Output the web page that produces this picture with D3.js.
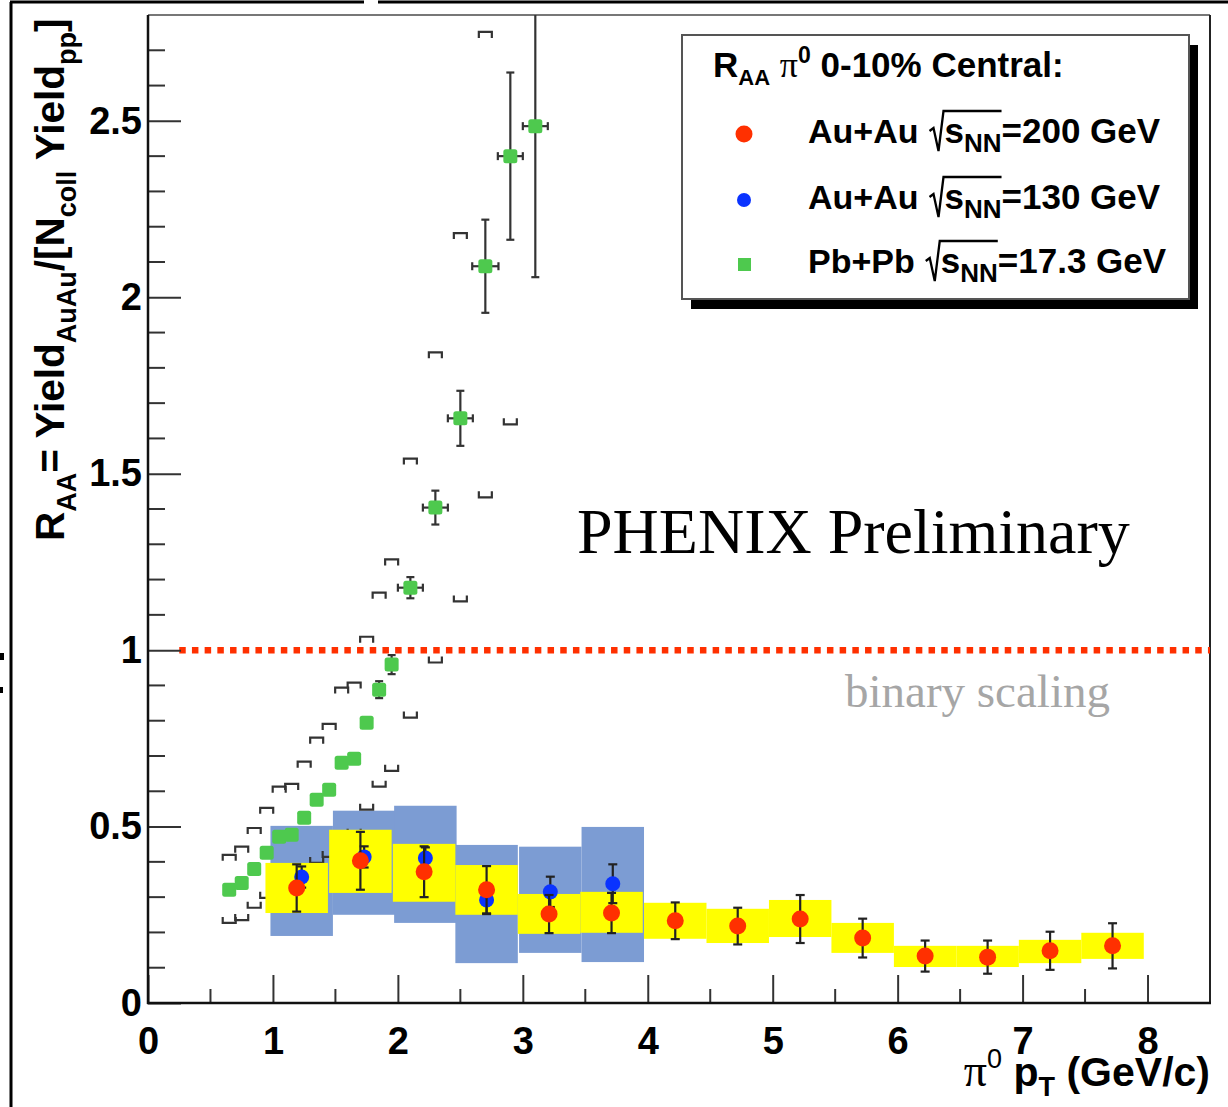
<!DOCTYPE html>
<html><head><meta charset="utf-8">
<script src="https://cdn.jsdelivr.net/npm/d3@7"></script>
<style>html,body{margin:0;padding:0;background:#fff;overflow:hidden}</style>
</head><body>
<svg id="chart" width="1228" height="1107"></svg>
<script>
// ---------------- data ----------------
// Au+Au 200 GeV (red)
const ptAuAu200   = [1.19, 1.70, 2.21, 2.71, 3.21, 3.71, 4.22, 4.72, 5.22, 5.72, 6.22, 6.72, 7.22, 7.72];
const raaAuAu200  = [0.326, 0.403, 0.372, 0.321, 0.252, 0.255, 0.233, 0.218, 0.238, 0.184, 0.133, 0.130, 0.148, 0.162];
const statAuAu200 = [0.067, 0.082, 0.072, 0.067, 0.054, 0.057, 0.052, 0.052, 0.068, 0.055, 0.044, 0.047, 0.054, 0.064];
const sysHiAuAu200 = [0.397, 0.491, 0.451, 0.391, 0.309, 0.315, 0.284, 0.267, 0.292, 0.227, 0.162, 0.162, 0.179, 0.199];
const sysLoAuAu200 = [0.255, 0.312, 0.287, 0.250, 0.196, 0.199, 0.182, 0.170, 0.187, 0.142, 0.102, 0.102, 0.113, 0.125];
// Au+Au 130 GeV (blue)
const ptAuAu130   = [1.23, 1.73, 2.22, 2.71, 3.22, 3.72];
const raaAuAu130  = [0.357, 0.414, 0.411, 0.292, 0.315, 0.338];
const statAuAu130 = [0.030, 0.030, 0.030, 0.040, 0.043, 0.055];
const sysHiAuAu130 = [0.502, 0.545, 0.559, 0.448, 0.443, 0.499];
const sysLoAuAu130 = [0.190, 0.250, 0.227, 0.113, 0.142, 0.116];
// Pb+Pb 17.3 GeV (green)
const ptPbPb    = [0.65, 0.75, 0.85, 0.95, 1.05, 1.15, 1.25, 1.35, 1.45, 1.55, 1.65, 1.75, 1.85, 1.95, 2.1, 2.3, 2.5, 2.7, 2.9, 3.1];
const raaPbPb   = [0.321, 0.340, 0.380, 0.426, 0.471, 0.477, 0.525, 0.576, 0.604, 0.681, 0.692, 0.794, 0.888, 0.959, 1.177, 1.404, 1.657, 2.088, 2.400, 2.485];
const statPbPb  = [0.01, 0.01, 0.01, 0.01, 0.01, 0.01, 0.01, 0.01, 0.01, 0.01, 0.01, 0.012, 0.024, 0.027, 0.030, 0.048, 0.078, 0.132, 0.237, 0.428];
const ptErrPbPb = [0, 0, 0, 0, 0, 0, 0, 0, 0, 0, 0, 0, 0, 0, 0.10, 0.10, 0.10, 0.105, 0.10, 0.10];
const sysUpPbPb = [0.420, 0.443, 0.496, 0.553, 0.613, 0.621, 0.684, 0.752, 0.791, 0.894, 0.908, 1.038, 1.163, 1.257, 1.543, 1.844, 2.182, 2.752, null, null];
const sysLoPbPb = [0.227, 0.235, 0.270, 0.298, 0.326, 0.329, 0.362, 0.397, 0.414, 0.470, 0.477, 0.548, 0.613, 0.658, 0.809, 0.965, 1.138, 1.433, 1.640, null];
// axes
const xTicks = [0, 1, 2, 3, 4, 5, 6, 7, 8];
const xTickLabels = ["0", "1", "2", "3", "4", "5", "6", "7", "8"];
const yTicks = [0, 0.5, 1, 1.5, 2, 2.5];
const yTickLabels = ["0", "0.5", "1", "1.5", "2", "2.5"];
const binaryScaling = 1;
// legend
const legendSystems  = ["Au+Au", "Au+Au", "Pb+Pb"];
const legendEnergies = ["=200 GeV", "=130 GeV", "=17.3 GeV"];
const legendMarkers  = ["red", "blue", "green"];

// ---------------- drawing ----------------
const SANS = "'Liberation Sans', Arial, Helvetica, sans-serif";
const SERIF = "'Liberation Serif', 'Times New Roman', Times, serif";
const C = {red: "#ff3000", blue: "#0a33ff", green: "#4ec94e", yellow: "#ffff00", bluebox: "#7c9cd3"};

const svg = d3.select("#chart");
const L = 148, R = 1210, T = 15, B = 1003;
const x = d3.scaleLinear().domain([0, 8.5]).range([L, R]);
const y = d3.scaleLinear().domain([0, 2.8]).range([B, T]);

svg.append("rect").attr("width", 1228).attr("height", 1107).attr("fill", "#fff");

// outer page frame fragments
svg.append("line").attr("x1", 11).attr("x2", 11).attr("y1", 2).attr("y2", 1107).attr("stroke", "#000").attr("stroke-width", 3);
svg.append("line").attr("x1", 10).attr("x2", 364).attr("y1", 2).attr("y2", 2).attr("stroke", "#000").attr("stroke-width", 3);
svg.append("line").attr("x1", 378).attr("x2", 1228).attr("y1", 2).attr("y2", 2).attr("stroke", "#000").attr("stroke-width", 3);
svg.append("rect").attr("x", 0).attr("y", 653).attr("width", 4).attr("height", 7).attr("fill", "#000");
svg.append("rect").attr("x", 0).attr("y", 687).attr("width", 3).attr("height", 6).attr("fill", "#000");

// plot frame
svg.append("line").attr("x1", L).attr("x2", R).attr("y1", T).attr("y2", T).attr("stroke", "#777").attr("stroke-width", 2);
svg.append("line").attr("x1", R).attr("x2", R).attr("y1", T).attr("y2", B).attr("stroke", "#222").attr("stroke-width", 2);

const defs = svg.append("defs");
defs.append("clipPath").attr("id", "plotclip").append("rect")
  .attr("x", L).attr("y", T).attr("width", R - L).attr("height", B - T);
const plot = svg.append("g").attr("clip-path", "url(#plotclip)");

// blue systematic boxes (130 GeV)
plot.append("g").selectAll("rect").data(ptAuAu130).join("rect")
  .attr("x", d => x(d - 0.25)).attr("width", d => x(d + 0.25) - x(d - 0.25))
  .attr("y", (d, i) => y(sysHiAuAu130[i])).attr("height", (d, i) => y(sysLoAuAu130[i]) - y(sysHiAuAu130[i]))
  .attr("fill", C.bluebox);

// Pb+Pb systematic brackets
const bw = 6.5, bl = 6;
const brk = plot.append("g").attr("fill", "none").attr("stroke", "#333").attr("stroke-width", 2.2);
ptPbPb.forEach((p, i) => {
  const cx = x(p);
  if (sysUpPbPb[i] != null) {
    const yy = y(sysUpPbPb[i]);
    brk.append("path").attr("d", `M${cx - bw},${yy + bl}V${yy}H${cx + bw}V${yy + bl}`);
  }
  if (sysLoPbPb[i] != null) {
    const yy = y(sysLoPbPb[i]);
    brk.append("path").attr("d", `M${cx - bw},${yy - bl}V${yy}H${cx + bw}V${yy - bl}`);
  }
});

// Pb+Pb error bars and squares
const ge = plot.append("g").attr("stroke", "#333").attr("stroke-width", 2.2).attr("fill", "none");
ptPbPb.forEach((p, i) => {
  const cx = x(p), v = raaPbPb[i], e = statPbPb[i], ex = ptErrPbPb[i];
  const y1 = y(v + e), y2 = y(v - e);
  ge.append("line").attr("x1", cx).attr("x2", cx).attr("y1", y1).attr("y2", y2);
  ge.append("line").attr("x1", cx - 4).attr("x2", cx + 4).attr("y1", y1).attr("y2", y1);
  ge.append("line").attr("x1", cx - 4).attr("x2", cx + 4).attr("y1", y2).attr("y2", y2);
  if (ex > 0) {
    const x1 = x(p - ex), x2 = x(p + ex), cy = y(v);
    ge.append("line").attr("x1", x1).attr("x2", x2).attr("y1", cy).attr("y2", cy);
    ge.append("line").attr("x1", x1).attr("x2", x1).attr("y1", cy - 4).attr("y2", cy + 4);
    ge.append("line").attr("x1", x2).attr("x2", x2).attr("y1", cy - 4).attr("y2", cy + 4);
  }
});
plot.append("g").selectAll("rect").data(ptPbPb).join("rect")
  .attr("x", d => x(d) - 7).attr("y", (d, i) => y(raaPbPb[i]) - 7)
  .attr("width", 14).attr("height", 14).attr("rx", 2.5).attr("fill", C.green);

// yellow systematic boxes (200 GeV)
plot.append("g").selectAll("rect").data(ptAuAu200).join("rect")
  .attr("x", d => x(d - 0.25)).attr("width", d => x(d + 0.25) - x(d - 0.25))
  .attr("y", (d, i) => y(sysHiAuAu200[i])).attr("height", (d, i) => y(sysLoAuAu200[i]) - y(sysHiAuAu200[i]))
  .attr("fill", C.yellow);

// binary scaling line
plot.append("line").attr("x1", x(0.25)).attr("x2", x(8.5)).attr("y1", y(binaryScaling)).attr("y2", y(binaryScaling))
  .attr("stroke", C.red).attr("stroke-width", 6.5).attr("stroke-dasharray", "6.5,6.2");

function errBars(g, xs, vs, es) {
  xs.forEach((p, i) => {
    const cx = x(p), y1 = y(vs[i] + es[i]), y2 = y(vs[i] - es[i]);
    g.append("line").attr("x1", cx).attr("x2", cx).attr("y1", y1).attr("y2", y2);
    g.append("line").attr("x1", cx - 4.5).attr("x2", cx + 4.5).attr("y1", y1).attr("y2", y1);
    g.append("line").attr("x1", cx - 4.5).attr("x2", cx + 4.5).attr("y1", y2).attr("y2", y2);
  });
}
// blue points
errBars(plot.append("g").attr("stroke", "#222").attr("stroke-width", 2.2), ptAuAu130, raaAuAu130, statAuAu130);
plot.append("g").selectAll("circle").data(ptAuAu130).join("circle")
  .attr("cx", d => x(d)).attr("cy", (d, i) => y(raaAuAu130[i])).attr("r", 7.5).attr("fill", C.blue);
// red points
errBars(plot.append("g").attr("stroke", "#222").attr("stroke-width", 2.2), ptAuAu200, raaAuAu200, statAuAu200);
plot.append("g").selectAll("circle").data(ptAuAu200).join("circle")
  .attr("cx", d => x(d)).attr("cy", (d, i) => y(raaAuAu200[i])).attr("r", 8.5).attr("fill", C.red);

// ---------------- axes ----------------
const xAxis = d3.axisBottom(x).tickValues(xTicks).tickSize(-28).tickPadding(24)
  .tickFormat((d, i) => xTickLabels[i]);
const gx = svg.append("g").attr("transform", `translate(0,${B})`).call(xAxis);
const yAxis = d3.axisLeft(y).tickValues(yTicks).tickSize(-33).tickPadding(6)
  .tickFormat((d, i) => yTickLabels[i]);
const gy = svg.append("g").attr("transform", `translate(${L},0)`).call(yAxis);
[gx, gy].forEach(g => {
  g.select(".domain").remove();
  g.selectAll(".tick line").attr("stroke", "#333").attr("stroke-width", 2);
  g.selectAll(".tick text").attr("font-family", SANS).attr("font-weight", "bold")
    .attr("font-size", 38).attr("fill", "#000");
});
// minor ticks
const xMinor = d3.range(0.5, 8.5, 1);
svg.append("g").selectAll("line").data(xMinor).join("line")
  .attr("x1", d => x(d)).attr("x2", d => x(d)).attr("y1", B).attr("y2", B - 14)
  .attr("stroke", "#333").attr("stroke-width", 2);
const yMinor = d3.range(1, 28).map(k => k / 10).filter(v => Math.abs(v * 2 - Math.round(v * 2)) > 1e-6);
svg.append("g").selectAll("line").data(yMinor).join("line")
  .attr("x1", L).attr("x2", L + 17).attr("y1", d => y(d)).attr("y2", d => y(d))
  .attr("stroke", "#333").attr("stroke-width", 2);
// axis lines
svg.append("line").attr("x1", L).attr("x2", L).attr("y1", T).attr("y2", B + 1).attr("stroke", "#111").attr("stroke-width", 2.5);
svg.append("line").attr("x1", L - 1).attr("x2", R + 1).attr("y1", B).attr("y2", B).attr("stroke", "#111").attr("stroke-width", 2.5);

// ---------------- titles ----------------
function rich(t, parts) {
  parts.forEach(p => {
    const s = t.append("tspan").text(p.t);
    if (p.fs) s.attr("font-size", p.fs);
    if (p.dy) s.attr("dy", p.dy);
    if (p.ff) s.attr("font-family", p.ff);
    if (p.fw) s.attr("font-weight", p.fw);
  });
  return t;
}
// y title
rich(svg.append("text").attr("transform", "translate(64,541) rotate(-90)")
  .attr("font-family", SANS).attr("font-weight", "bold").attr("font-size", 40.5).attr("fill", "#000"), [
  {t: "R"}, {t: "AA", fs: 27, dy: 12}, {t: "= Yield", dy: -12}, {t: "AuAu", fs: 27, dy: 12},
  {t: "/[N", dy: -12}, {t: "coll", fs: 27, dy: 12}, {t: " Yield", dy: -12}, {t: "pp", fs: 27, dy: 12}, {t: "]", dy: -12}
]);
// x title
rich(svg.append("text").attr("x", 1210).attr("y", 1086).attr("text-anchor", "end")
  .attr("font-family", SANS).attr("font-weight", "bold").attr("font-size", 41).attr("fill", "#000"), [
  {t: "π", ff: SERIF, fw: "normal", fs: 46}, {t: "0", fs: 27, dy: -18, fw: "normal"},
  {t: " p", dy: 18}, {t: "T", fs: 27, dy: 10}, {t: " (GeV/c)", dy: -10}
]);

// annotations
svg.append("text").attr("x", 577).attr("y", 553).attr("font-family", SERIF).attr("font-size", 64)
  .attr("fill", "#000").text("PHENIX Preliminary");
svg.append("text").attr("x", 845).attr("y", 707).attr("font-family", SERIF).attr("font-size", 47)
  .attr("fill", "#a6a6a6").text("binary scaling");

// ---------------- legend ----------------
const lg = svg.append("g");
lg.append("rect").attr("x", 691).attr("y", 45).attr("width", 507).attr("height", 264).attr("fill", "#000");
lg.append("rect").attr("x", 682).attr("y", 35).attr("width", 507).attr("height", 264)
  .attr("fill", "#fff").attr("stroke", "#555").attr("stroke-width", 2);
rich(lg.append("text").attr("x", 713).attr("y", 77).attr("font-family", SANS).attr("font-weight", "bold")
  .attr("font-size", 35).attr("fill", "#000"), [
  {t: "R"}, {t: "AA", fs: 22, dy: 8}, {t: " ", dy: -8}, {t: "π", ff: SERIF, fw: "normal", fs: 36},
  {t: "0", fs: 23, dy: -14}, {t: " 0-10% Central:", dy: 14}
]);
const rowY = [143, 209, 273];
legendSystems.forEach((sys, i) => {
  const b = rowY[i];
  const mk = legendMarkers[i];
  if (mk === "red") lg.append("circle").attr("cx", 744).attr("cy", b - 9).attr("r", 8.5).attr("fill", C.red);
  if (mk === "blue") lg.append("circle").attr("cx", 744).attr("cy", b - 9).attr("r", 7).attr("fill", C.blue);
  if (mk === "green") lg.append("rect").attr("x", 738).attr("y", b - 15).attr("width", 13).attr("height", 13).attr("fill", C.green);
  const t1 = lg.append("text").attr("x", 808).attr("y", b).attr("font-family", SANS).attr("font-weight", "bold")
    .attr("font-size", 34).attr("fill", "#000").text(sys);
  const w1 = t1.node().getComputedTextLength();
  const rx = 808 + w1 + 11;
  const t2 = lg.append("text").attr("x", rx + 15).attr("y", b).attr("font-family", SANS).attr("font-weight", "bold")
    .attr("font-size", 35).attr("fill", "#000");
  const s1 = t2.append("tspan").text("s");
  const s2 = t2.append("tspan").attr("font-size", 26).attr("dy", 9).text("NN");
  t2.append("tspan").attr("dy", -9).text(legendEnergies[i]);
  const ov = rx + 15 + s1.node().getComputedTextLength() + s2.node().getComputedTextLength();
  lg.append("path").attr("d", `M${rx},${b - 12}L${rx + 4},${b - 15}L${rx + 9},${b + 8}L${rx + 14},${b - 32}H${ov}`)
    .attr("fill", "none").attr("stroke", "#000").attr("stroke-width", 2.3).attr("stroke-linejoin", "miter");
});
</script>
</body></html>
